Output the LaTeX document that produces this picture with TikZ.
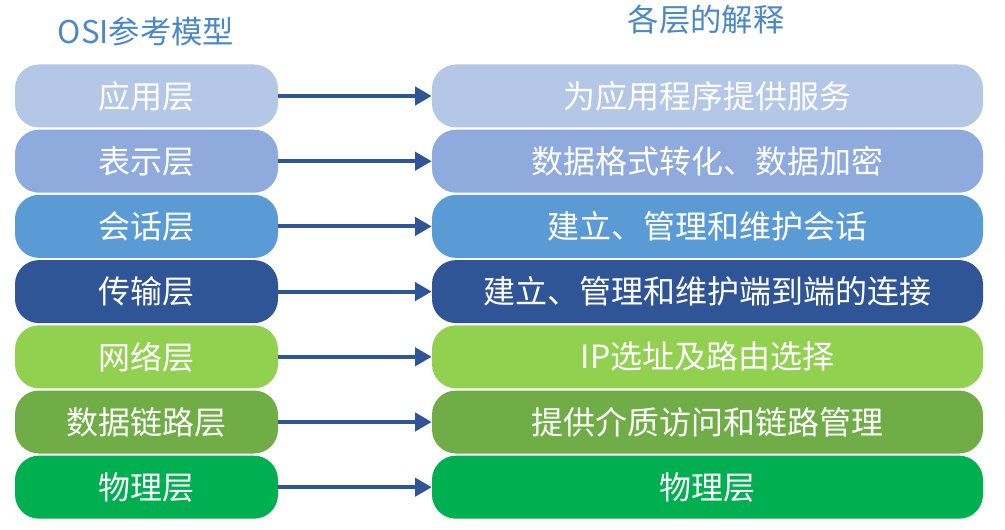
\documentclass[tikz,border=0pt]{standalone}
\usepackage{fontspec}
\setmainfont{Noto Sans CJK SC}
\usepackage{tikz}
\usetikzlibrary{arrows.meta}
\definecolor{lay1}{HTML}{B4C7E7}
\definecolor{lay2}{HTML}{8FAADC}
\definecolor{lay3}{HTML}{5B9BD5}
\definecolor{lay4}{HTML}{2F5597}
\definecolor{lay5}{HTML}{92D050}
\definecolor{lay6}{HTML}{70AD47}
\definecolor{lay7}{HTML}{00B050}
\definecolor{arrowblue}{HTML}{2F5597}
\definecolor{headblue}{HTML}{4A88C7}

\begin{document}
\begin{tikzpicture}[x=0.75pt, y=-0.75pt,
    layer/.style={rounded corners=18pt, minimum height=47.25pt, inner sep=0pt,
                  text=white, font=\fontsize{24}{29}\selectfont},
    heading/.style={text=headblue, font=\fontsize{23.5}{28}\selectfont},
    flow/.style={arrowblue, line width=3pt, -{Triangle[length=12.5pt,width=13.5pt]}}]
                      \useasboundingbox (0,0) rectangle (1005,530);
                      \node[heading] (osi) at (146,32) {OSI参考模型};
                      \node[heading] (expl) at (706,20) {各层的解释};
                      \foreach \i/\name/\desc in {1/应用层/为应用程序提供服务,
                                                  2/表示层/数据格式转化、数据加密,
                                                  3/会话层/建立、管理和维护会话,
                                                  4/传输层/建立、管理和维护端到端的连接,
                                                  5/网络层/IP选址及路由选择,
                                                  6/数据链路层/提供介质访问和链路管理,
                                                  7/物理层/物理层} {
                        \node[layer, fill=lay\i, minimum width=197.25pt] (L\i) at (146.5,{96+65.2*(\i-1)}) {\name};
                        \node[layer, fill=lay\i, minimum width=413.25pt] (R\i) at (707.5,{96+65.2*(\i-1)}) {\desc};
                        \draw[flow] (L\i.east) -- (R\i.west);
                      }
                  \end{tikzpicture}
\end{document}
